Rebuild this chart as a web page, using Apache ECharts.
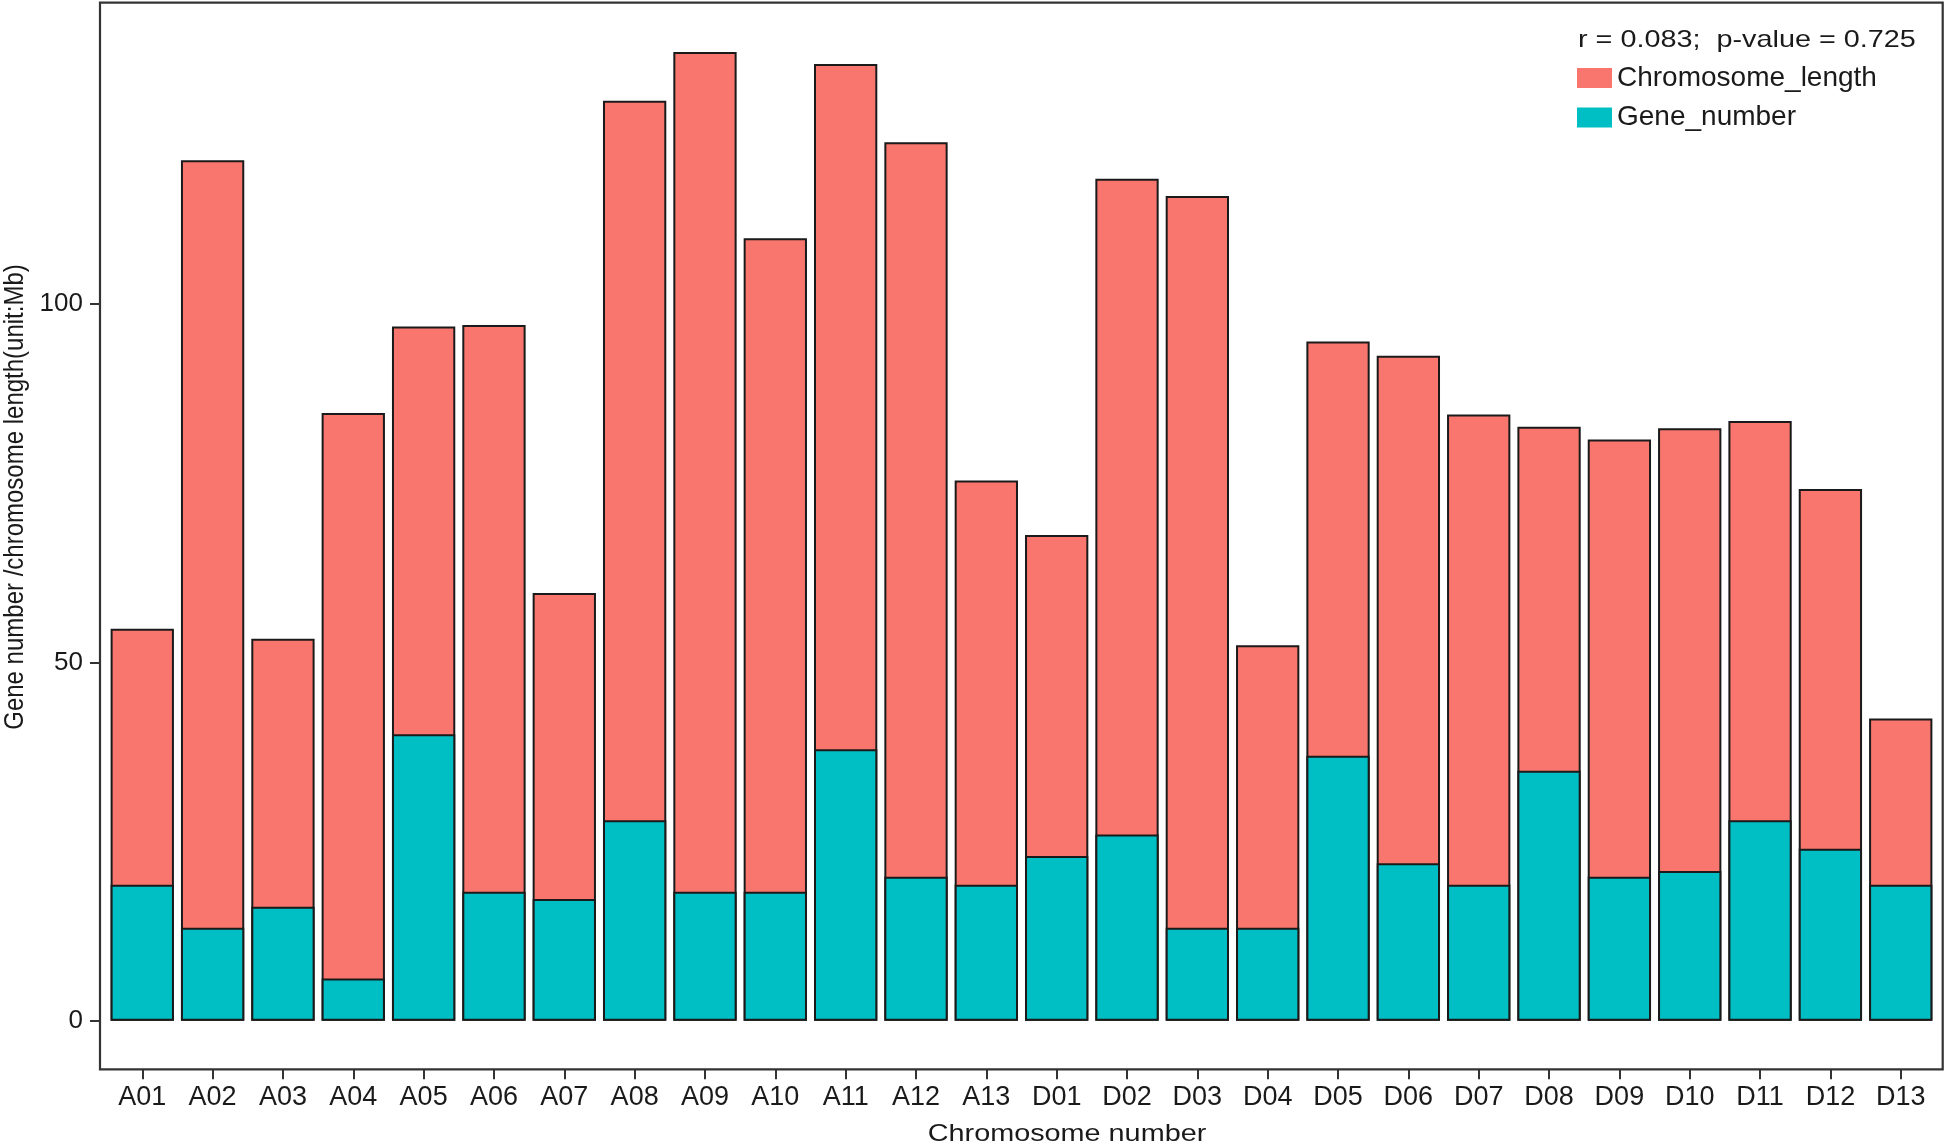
<!DOCTYPE html>
<html>
<head>
<meta charset="utf-8">
<script src="https://cdn.jsdelivr.net/npm/echarts@6/dist/echarts.min.js"></script>
<style>html,body{margin:0;padding:0;background:#fff;}#c{width:1946px;height:1144px;}</style>
</head>
<body>
<div id="c"></div>
<script>
const categories = ['A01','A02','A03','A04','A05','A06','A07','A08','A09','A10','A11','A12','A13',
                    'D01','D02','D03','D04','D05','D06','D07','D08','D09','D10','D11','D12','D13'];
const chromosomeLength = [54.7,120.1,53.3,84.8,96.9,97.1,59.7,128.4,135.2,109.2,133.5,122.6,75.4,
                          67.8,117.5,115.1,52.4,94.8,92.8,84.6,82.9,81.1,82.7,83.7,74.2,42.2];
const geneNumber = [19.0,13.0,15.9,5.9,40.0,18.0,17.0,28.0,18.0,18.0,37.9,20.1,19.0,
                    23.0,26.0,13.0,13.0,37.0,22.0,19.0,34.9,20.1,20.9,28.0,24.0,19.0];
const yTicks = [0, 50, 100];
const seriesNames = ['Chromosome_length', 'Gene_number'];
const statText = 'r = 0.083;  p-value = 0.725';

const font = 'Liberation Sans, Arial, sans-serif';
const chart = echarts.init(document.getElementById('c'), null, {renderer: 'canvas'});
chart.setOption({
  animation: false,
  backgroundColor: '#ffffff',
  grid: {left: 107.1, right: 10.1, top: 2.7, bottom: 74.7, containLabel: false},
  xAxis: {
    type: 'category',
    data: categories,
    boundaryGap: true,
    axisLine: {show: false, onZero: false},
    axisTick: {show: true, alignWithLabel: true, length: 10, lineStyle: {color: '#333', width: 2}},
    axisLabel: {color: '#1a1a1a', fontSize: 27, fontFamily: font, margin: 15, interval: 0},
    splitLine: {show: false}
  },
  yAxis: {
    type: 'value',
    min: -6.77,
    max: 142.07,
    offset: 7.1,
    axisLine: {show: false},
    axisTick: {show: true, length: 10, lineStyle: {color: '#333', width: 2}, customValues: yTicks},
    axisLabel: {color: '#1a1a1a', fontSize: 26, fontFamily: font, margin: 17, customValues: yTicks},
    splitLine: {show: false}
  },
  legend: {
    orient: 'vertical',
    left: 1572,
    top: 59,
    icon: 'rect',
    itemWidth: 35,
    itemHeight: 20,
    itemGap: 11.5,
    itemTextGap: 8,
    itemStyle: {borderWidth: 0},
    textStyle: {fontSize: 28, fontFamily: font, color: '#1a1a1a'},
    data: seriesNames
  },
  series: [
    {
      name: seriesNames[0],
      type: 'bar',
      data: chromosomeLength,
      barWidth: '90%',
      barGap: '-100%',
      itemStyle: {color: '#F8766D', borderColor: '#1a1a1a', borderWidth: 2},
      z: 2
    },
    {
      name: seriesNames[1],
      type: 'bar',
      data: geneNumber,
      barWidth: '90%',
      barGap: '-100%',
      itemStyle: {color: '#00BFC4', borderColor: '#1a1a1a', borderWidth: 2},
      z: 3
    }
  ],
  graphic: [
    {type: 'rect', shape: {x: 100, y: 2.7, width: 1842.7, height: 1066.6},
     style: {fill: 'none', stroke: '#333', lineWidth: 2.2}, z: 10, silent: true},
    {type: 'text', x: 1578, y: 40, scaleX: 1.2,
     style: {text: statText, fontSize: 24, fontFamily: font, fill: '#1a1a1a', textAlign: 'left', textVerticalAlign: 'middle'}},
    {type: 'text', x: 1067, y: 1134, scaleX: 1.2,
     style: {text: 'Chromosome number', fontSize: 24, fontFamily: font, fill: '#1a1a1a', textAlign: 'center', textVerticalAlign: 'middle'}},
    {type: 'text', x: 15, y: 497, rotation: Math.PI / 2, scaleY: 1.15,
     style: {text: 'Gene number /chromosome length(unit:Mb)', fontSize: 24, fontFamily: font, fill: '#1a1a1a', textAlign: 'center', textVerticalAlign: 'middle'}}
  ]
});
</script>
</body>
</html>
